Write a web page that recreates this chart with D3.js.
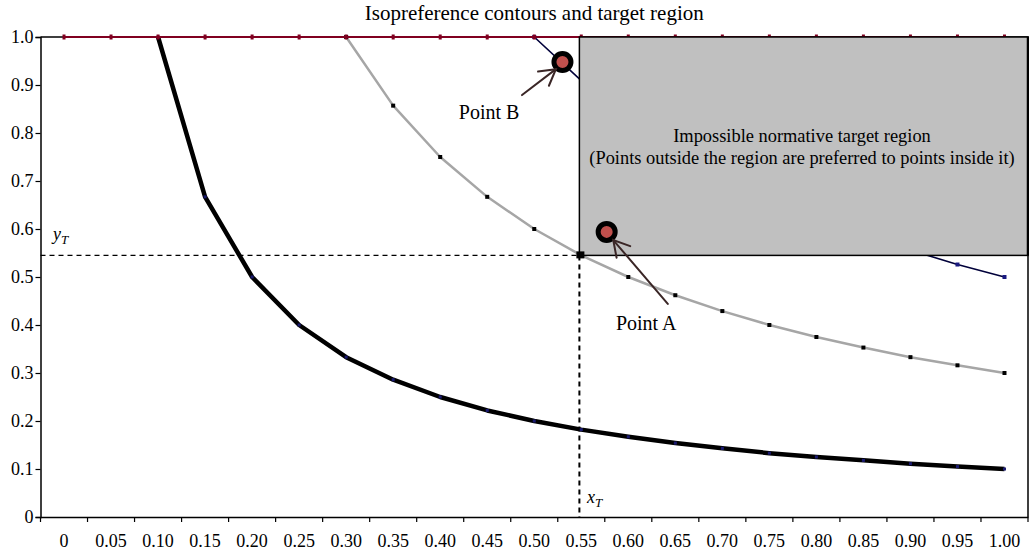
<!DOCTYPE html>
<html><head><meta charset="utf-8">
<script src="https://cdn.jsdelivr.net/npm/d3@7"></script>
<style>
html,body{margin:0;padding:0;background:#fff;}
svg{display:block;font-family:"Liberation Serif","Times New Roman",serif;}
</style></head>
<body><svg id="c" width="1029" height="552"></svg>
<script>
// ---------- data ----------
const categories = ["0","0.05","0.10","0.15","0.20","0.25","0.30","0.35","0.40","0.45","0.50","0.55","0.60","0.65","0.70","0.75","0.80","0.85","0.90","0.95","1.00"];
const capLine    = [1,1,1,1,1,1,1,1,1,1,1,1,1,1,1,1,1,1,1,1,1];
const contourLow = [null,null,1.0,0.667,0.5,0.4,0.333,0.286,0.25,0.222,0.2,0.182,0.167,0.154,0.143,0.133,0.125,0.118,0.111,0.105,0.1];
const contourMid = [null,null,null,null,null,null,1.0,0.857,0.75,0.667,0.6,0.545,0.5,0.462,0.429,0.4,0.375,0.353,0.333,0.316,0.3];
const contourHigh= [null,null,null,null,null,null,null,null,null,null,1.0,0.909,0.833,0.769,0.714,0.667,0.625,0.588,0.556,0.526,0.5];
const yTicks = [0,0.1,0.2,0.3,0.4,0.5,0.6,0.7,0.8,0.9,1.0];
const yTickLabels = ["0","0.1","0.2","0.3","0.4","0.5","0.6","0.7","0.8","0.9","1.0"];
const target = {x:0.548, y:0.545};
const points = [{name:"Point A", x:0.577, y:0.594}, {name:"Point B", x:0.530, y:0.948}];
const arrows = [
  {label:"Point A", tail:[0.642,0.444], tip:[0.584,0.577], text:[0.619,0.39]},
  {label:"Point B", tail:[0.487,0.879], tip:[0.523,0.933], text:[0.452,0.830]}
];
const title = "Isopreference contours and target region";
const regionText = ["Impossible normative target region","(Points outside the region are preferred to points inside it)"];

// ---------- layout ----------
const svg = d3.select("#c");
const L=40.5, R=1028, T=37, B=517;
const xBand = d3.scaleBand().domain(categories).range([L,R]).padding(0);
const bw = xBand.bandwidth();
const xPos = c => xBand(c)+bw/2;
const xLin = d3.scaleLinear().domain([0,1]).range([xPos(categories[0]), xPos(categories[categories.length-1])]);
const y = d3.scaleLinear().domain([0,1]).range([B,T]);

// title
svg.append("text").attr("x",(L+R)/2).attr("y",19.5).attr("text-anchor","middle")
  .style("font-size","21px").attr("fill","#000").text(title);

// plot border (top/right)
svg.append("path").attr("d",`M${L},${T}H${R}V${B}`).attr("fill","none").attr("stroke","#000").attr("stroke-width",1.5);

// y axis
const yAxis = svg.append("g").attr("transform",`translate(${L},0)`)
  .call(d3.axisLeft(y).tickValues(yTicks).tickSize(5).tickFormat((d,i)=>yTickLabels[i]));
yAxis.select(".domain").attr("stroke","#000").attr("stroke-width",1.5);
yAxis.selectAll(".tick line").attr("stroke","#000").attr("stroke-width",1.2);
yAxis.selectAll(".tick text").style("font-size","18px").style("font-family","'Liberation Serif',serif").attr("fill","#000").attr("x",-7);

// x axis (labels at band centers, ticks at band edges)
const xAxis = svg.append("g").attr("transform",`translate(0,${B})`)
  .call(d3.axisBottom(xBand).tickSize(0).tickPadding(17));
xAxis.select(".domain").attr("stroke","#000").attr("stroke-width",1.5);
xAxis.selectAll(".tick text").style("font-size","18px").style("font-family","'Liberation Serif',serif").attr("fill","#000");
const edges = categories.map(c=>xBand(c)).concat([R]);
svg.append("g").selectAll("line").data(edges).join("line")
  .attr("x1",d=>d).attr("x2",d=>d).attr("y1",B).attr("y2",B+5).attr("stroke","#000").attr("stroke-width",1.2);

// target dashed lines
svg.append("line").attr("x1",L).attr("x2",xLin(target.x)).attr("y1",y(target.y)).attr("y2",y(target.y))
  .attr("stroke","#000").attr("stroke-width",1.2).attr("stroke-dasharray","5,4");
svg.append("line").attr("x1",xLin(target.x)).attr("x2",xLin(target.x)).attr("y1",y(target.y)).attr("y2",B)
  .attr("stroke","#000").attr("stroke-width",2).attr("stroke-dasharray","5,4");

// series
function series(vals, color, width, mColor, mw, mh){
  const pts = vals.map((v,i)=>({c:categories[i], v})).filter(d=>d.v!=null);
  const line = d3.line().x(d=>xPos(d.c)).y(d=>y(d.v));
  svg.append("path").datum(pts).attr("d",line).attr("fill","none").attr("stroke",color)
    .attr("stroke-width",width).attr("stroke-linejoin","round");
  svg.append("g").selectAll("rect").data(pts).join("rect")
    .attr("x",d=>xPos(d.c)-mw/2).attr("y",d=>y(d.v)-mh/2).attr("width",mw).attr("height",mh).attr("fill",mColor);
}
series(contourHigh, "#00003a", 1.6, "#1a1a80", 4, 4);
series(contourMid, "#a6a6a6", 2.5, "#000", 4, 4);
series(contourLow, "#000", 4.5, "#1a1a70", 3, 3);
series(capLine, "#800020", 2.2, "#800020", 3, 5);

// impossible region
const rx = xLin(target.x), ry = y(1), rw = R - rx, rh = y(target.y) - y(1);
svg.append("rect").attr("x",rx).attr("y",ry).attr("width",rw).attr("height",rh)
  .attr("fill","#c0c0c0").attr("stroke","#000").attr("stroke-width",1.5);
svg.append("line").attr("x1",R).attr("x2",R).attr("y1",T).attr("y2",y(target.y)).attr("stroke","#000").attr("stroke-width",2.5);
svg.append("text").attr("x",rx+rw/2).attr("text-anchor","middle").style("font-size","18.4px").attr("fill","#000")
  .selectAll("tspan").data(regionText).join("tspan").attr("x",802).attr("y",(d,i)=>142+i*22).text(d=>d);

// small square at target corner
svg.append("rect").attr("x",xLin(target.x)-3).attr("y",y(target.y)-4).attr("width",8).attr("height",7).attr("fill","#000");

// target labels
const yl = svg.append("text").attr("x",53).attr("y",240).style("font-size","18px").style("font-style","italic");
yl.append("tspan").text("y");
yl.append("tspan").attr("dy",4).style("font-size","13px").text("T");
const xl = svg.append("text").attr("x",587).attr("y",503).style("font-size","18px").style("font-style","italic");
xl.append("tspan").text("x");
xl.append("tspan").attr("dy",4).style("font-size","13px").text("T");

// points
svg.append("g").selectAll("circle").data(points).join("circle")
  .attr("cx",d=>xLin(d.x)).attr("cy",d=>y(d.y)).attr("r",8.5)
  .attr("fill","#c0504d").attr("stroke","#000").attr("stroke-width",5);

// arrows
arrows.forEach(a=>{
  const x1=xLin(a.tail[0]), y1=y(a.tail[1]), x2=xLin(a.tip[0]), y2=y(a.tip[1]);
  const ang = Math.atan2(y1-y2, x1-x2), len=18, sp=0.52;
  const g = svg.append("g").attr("stroke","#3a2626").attr("stroke-width",2).attr("fill","none").attr("stroke-linecap","round");
  g.append("line").attr("x1",x1).attr("y1",y1).attr("x2",x2).attr("y2",y2);
  g.append("path").attr("d",`M${x2+len*Math.cos(ang+sp)},${y2+len*Math.sin(ang+sp)}L${x2},${y2}L${x2+len*Math.cos(ang-sp)},${y2+len*Math.sin(ang-sp)}`);
  svg.append("text").attr("x",xLin(a.text[0])).attr("y",y(a.text[1])).attr("text-anchor","middle")
    .style("font-size","20px").attr("fill","#000").text(a.label);
});
</script></body></html>
